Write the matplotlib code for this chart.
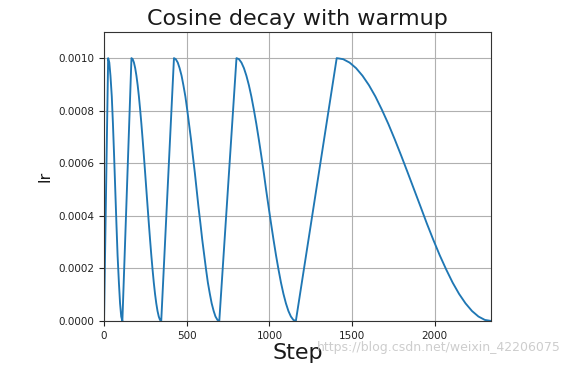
import matplotlib
matplotlib.use("Agg")
import matplotlib.pyplot as plt
from matplotlib.ticker import FormatStrFormatter

# ---- data ----
peak_lr = 0.001

# cycle breakpoints (step where warmup starts at 0)
cycle_start = [0, 111, 346, 697, 1160]

# decay steps for each cycle (peak -> zero)
decay_steps_1 = [25, 32, 39, 47, 54, 61, 68, 75, 82, 90, 97, 104, 111]
decay_steps_2 = [166, 173.5, 181, 188.5, 196, 203.5, 211, 218.5, 226, 233.5,
                 241, 248.5, 256, 263.5, 271, 278.5, 286, 293.5, 301, 308.5,
                 316, 323.5, 331, 338.5, 346]
decay_steps_3 = [423, 434, 446, 457, 469, 480, 492, 503, 514, 526, 537, 549,
                 560, 571, 583, 594, 606, 617, 628, 640, 651, 663, 674, 686, 697]
decay_steps_4 = [801, 816, 831, 846, 861, 876, 891, 906, 921, 936, 951, 966,
                 980, 995, 1010, 1025, 1040, 1055, 1070, 1085, 1100, 1115,
                 1130, 1145, 1160]
decay_steps_5 = [1407, 1446, 1485, 1524, 1563, 1602, 1641, 1680, 1719, 1758,
                 1797, 1836, 1875, 1914, 1952, 1991, 2030, 2069, 2108, 2147,
                 2186, 2225, 2264, 2303, 2342]

# learning-rate values along the decays
decay_lr_short = [0.001, 0.000983, 0.000933, 0.000854, 0.00075, 0.000629,
                  0.0005, 0.000371, 0.00025, 0.000146, 0.000067, 0.000017, 0.0]
decay_lr_long = [0.001, 0.000996, 0.000983, 0.000962, 0.000933, 0.000897,
                 0.000854, 0.000804, 0.00075, 0.000691, 0.000629, 0.000565,
                 0.0005, 0.000435, 0.000371, 0.000309, 0.00025, 0.000196,
                 0.000146, 0.000103, 0.000067, 0.000038, 0.000017, 0.000004, 0.0]

x_ticks = [0, 500, 1000, 1500, 2000]
y_ticks = [0.0, 0.0002, 0.0004, 0.0006, 0.0008, 0.0010]

# ---- assemble series ----
decays = [(decay_steps_1, decay_lr_short), (decay_steps_2, decay_lr_long),
          (decay_steps_3, decay_lr_long), (decay_steps_4, decay_lr_long),
          (decay_steps_5, decay_lr_long)]
steps = []
lrs = []
for s0, (ds, dl) in zip(cycle_start, decays):
    steps.append(s0)
    lrs.append(0.0)
    steps.extend(ds)
    lrs.extend(dl)

fig = plt.figure(figsize=(5.69, 3.66), dpi=100)
ax = fig.add_axes([0.1828, 0.123, 0.6807, 0.790])
ax.plot(steps, lrs, color="#1f77b4", linewidth=1.35)
ax.set_xlim(0, 2342)
ax.set_ylim(0, 0.0011)
ax.set_xticks(x_ticks)
ax.set_yticks(y_ticks)
ax.yaxis.set_major_formatter(FormatStrFormatter("%.4f"))
ax.tick_params(labelsize=7.5, length=3.5, width=0.8, colors="#222222")
ax.grid(True, color="#b0b0b0", linewidth=0.8)
ax.set_axisbelow(True)
for sp in ax.spines.values():
    sp.set_color("#333333")
    sp.set_linewidth(0.8)

ax.set_title("Cosine decay with warmup", fontsize=16, color="#1a1a1a", pad=5)
ax.set_xlabel("Step", fontsize=16, color="#1a1a1a", labelpad=2)
ax.set_ylabel("lr", fontsize=11.5, color="#1a1a1a", labelpad=4)

fig.text(0.985, 0.040, "https://blog.csdn.net/weixin_42206075", fontsize=9,
         color="#c8c8c8", ha="right", va="baseline", alpha=0.9)

fig.savefig("out.png", dpi=100)
